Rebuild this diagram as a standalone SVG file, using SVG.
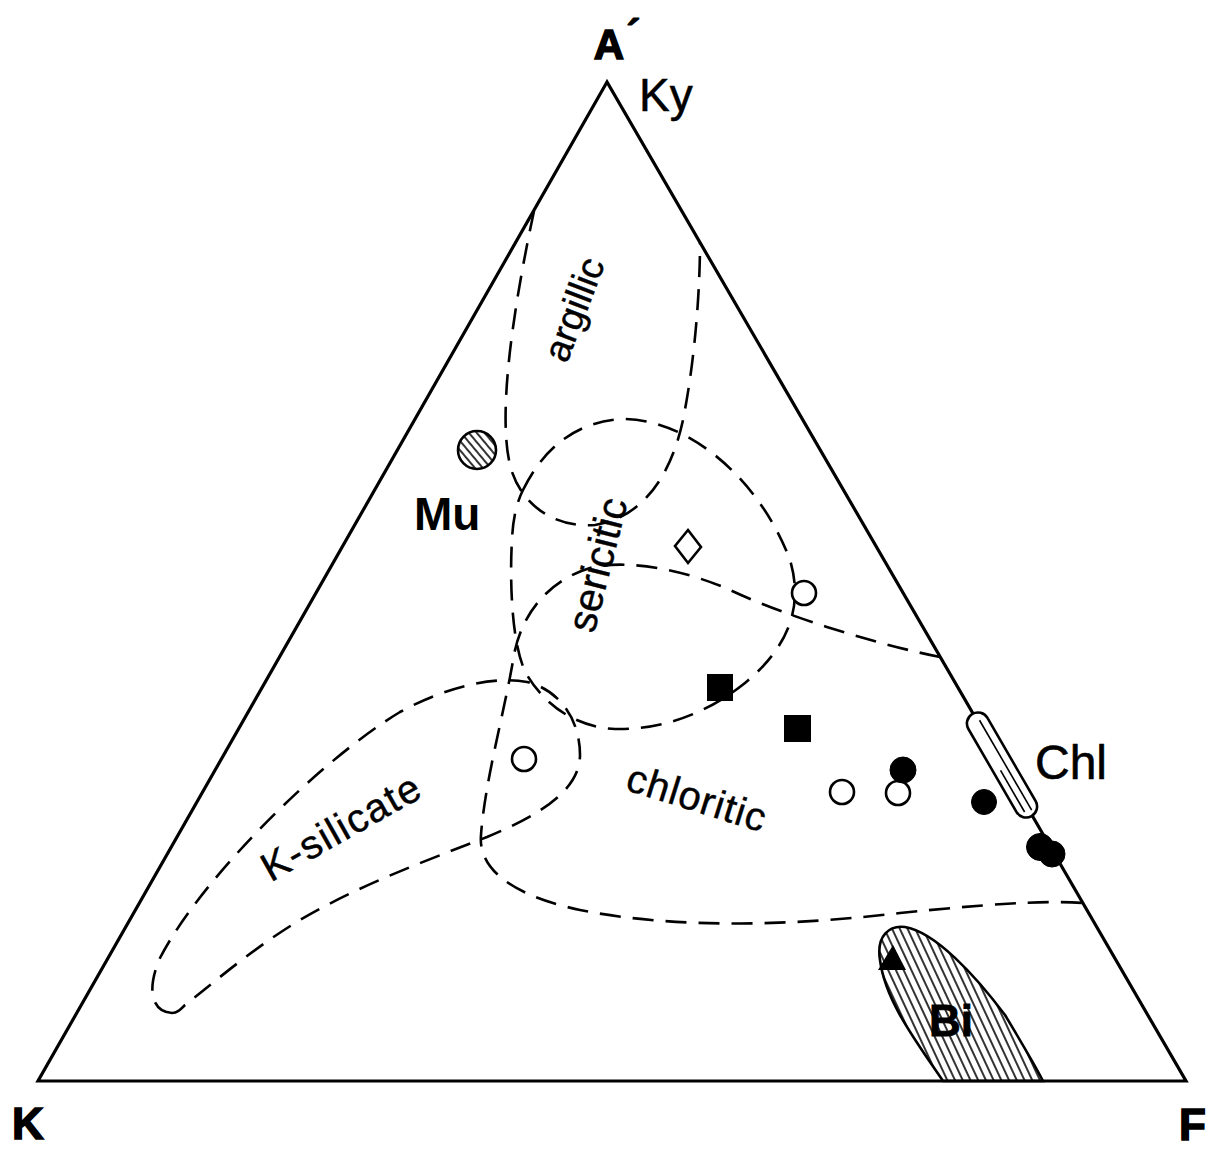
<svg xmlns="http://www.w3.org/2000/svg" width="1215" height="1149" viewBox="0 0 1215 1149">
<style>
.dash{fill:none;stroke:#000;stroke-width:2.6;stroke-dasharray:21 12;stroke-linecap:butt}
.edge{fill:none;stroke:#000;stroke-width:3.2;stroke-linejoin:miter}
.lbl{font-family:"Liberation Sans",Arial,sans-serif;fill:#000}
.b{font-weight:bold}
.open{fill:#fff;stroke:#000;stroke-width:2.6}
.solid{fill:#000;stroke:#000;stroke-width:1}
</style>
<defs>
<pattern id="hatchBi" patternUnits="userSpaceOnUse" width="7" height="7" patternTransform="rotate(-25)">
<line x1="3" y1="0" x2="3" y2="7" stroke="#000" stroke-width="1.6"/>
</pattern>
<pattern id="hatchMu" patternUnits="userSpaceOnUse" width="6" height="6" patternTransform="rotate(-40)">
<line x1="3" y1="0" x2="3" y2="6" stroke="#000" stroke-width="1.6"/>
</pattern>
</defs>
<rect width="1215" height="1149" fill="#fff"/>

<g id="connectors">
<path id="argillic-field" class="dash" d="M 534,211 C 515,300 495,420 512,472 C 525,510 560,528 595,525 C 640,518 670,480 683,420 C 695,360 700,290 700,243"/>
<path id="sericitic-field" class="dash" d="M 523,490 C 545,445 580,420 625,419 C 690,420 760,480 790,560 C 805,610 785,650 745,683 C 705,715 660,730 615,729 C 575,727 545,705 527,675 C 510,645 510,570 512,540 C 513,515 518,500 523,490 Z"/>
<path id="chloritic-field" class="dash" d="M 940,657 C 880,645 790,618 730,590 C 690,572 630,558 590,568 C 550,580 522,612 514,655 C 505,710 485,780 481,835 C 478,868 510,895 580,910 C 680,930 800,925 900,913 C 980,905 1040,900 1083,903"/>
<path id="ksilicate-field" class="dash" d="M 172,1013 C 152,1012 146,990 160,958 C 200,880 320,760 400,712 C 440,690 490,675 527,682 C 560,690 580,720 580,755 C 580,790 540,815 487,837 C 420,863 360,885 300,920 C 250,950 205,990 185,1005 C 180,1010 177,1013 172,1013 Z"/>
</g>

<g id="node-Bi">
<path d="M 943,1081 C 915,1040 885,1000 880,960 C 876,935 890,925 905,927 C 935,932 975,975 1005,1015 C 1020,1040 1035,1065 1043,1081 Z" fill="url(#hatchBi)" stroke="#000" stroke-width="2.6"/>
<polygon points="878,970 906,970 893,945" fill="#000"/>
<text class="lbl b" x="951" y="1036" font-size="44" text-anchor="middle" stroke="#000" stroke-width="0.8">Bi</text>
</g>

<g id="triangle">
<polygon class="edge" points="607,82 38,1081 1186,1081"/>
</g>

<g id="node-Chl">
<g transform="translate(1002,765) rotate(59.9)">
<rect x="-59" y="-11" width="118" height="22" rx="11" fill="#fff" stroke="#000" stroke-width="2.6"/>
<line x1="-50" y1="-3" x2="54" y2="-3" stroke="#000" stroke-width="1.6"/>
<line x1="4" y1="4" x2="52" y2="4" stroke="#000" stroke-width="1.6"/>
</g>
<text class="lbl" x="1035" y="779" font-size="48" stroke="#000" stroke-width="0.6">Chl</text>
</g>

<g id="node-Mu">
<circle cx="477" cy="450" r="19" fill="url(#hatchMu)" stroke="#000" stroke-width="2.6"/>
<text class="lbl b" x="414" y="530" font-size="46">Mu</text>
</g>

<g id="samples">
<path d="M 688,530 L 701,547 L 688,563 L 675,546 Z" fill="#fff" stroke="#000" stroke-width="2.6"/>
<circle class="open" cx="804" cy="593" r="12"/>
<circle class="open" cx="524" cy="759" r="12"/>
<rect x="707" y="674" width="26" height="27" fill="#000"/>
<rect x="784" y="715" width="27" height="27" fill="#000"/>
<circle class="open" cx="842" cy="792" r="12"/>
<circle class="open" cx="898" cy="793" r="12"/>
<circle class="solid" cx="903" cy="770" r="13"/>
<circle class="solid" cx="984" cy="802" r="12.5"/>
<circle class="solid" cx="1040" cy="847" r="13.5"/>
<circle class="solid" cx="1052" cy="854" r="13"/>
</g>

<g id="labels">
<text class="lbl b" x="609" y="59" font-size="42" text-anchor="middle" stroke="#000" stroke-width="1.5">A</text>
<text class="lbl b" x="626" y="51" font-size="44" stroke="#000" stroke-width="0.8">´</text>
<text class="lbl" x="639" y="111" font-size="46" stroke="#000" stroke-width="0.5">Ky</text>
<text class="lbl b" x="12" y="1139" font-size="44" stroke="#000" stroke-width="1.5">K</text>
<text class="lbl b" x="1179" y="1140" font-size="44" stroke="#000" stroke-width="1.5">F</text>
<text class="lbl" font-size="38" text-anchor="middle" stroke="#000" stroke-width="0.4" transform="translate(586,314) rotate(-69)">argillic</text>
<text class="lbl" font-size="41" text-anchor="middle" stroke="#000" stroke-width="0.4" transform="translate(611,568) rotate(-75.7)">sericitic</text>
<text class="lbl" font-size="40" text-anchor="middle" letter-spacing="1" stroke="#000" stroke-width="0.4" transform="translate(693,811) rotate(17.4)">chloritic</text>
<text class="lbl" font-size="40" text-anchor="middle" letter-spacing="1.5" stroke="#000" stroke-width="0.4" transform="translate(348,839) rotate(-29.4)">K-silicate</text>
</g>
</svg>
